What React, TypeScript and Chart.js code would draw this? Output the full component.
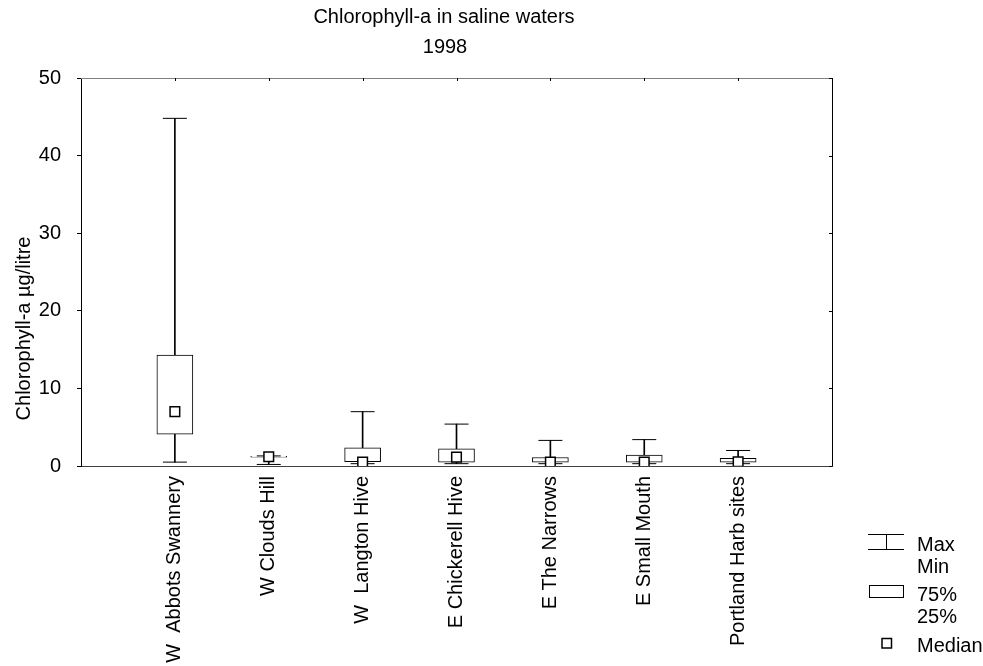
import React, { useEffect, useRef } from 'react';
import { Chart, registerables } from 'chart.js';

Chart.register(...registerables);

// ---- Data ----
const categories = [
  'W  Abbots Swannery',
  'W Clouds Hill',
  'W  Langton Hive',
  'E Chickerell Hive',
  'E The Narrows',
  'E Small Mouth',
  'Portland Harb sites',
];
const minValues = [0.5, 0.2, 0.3, 0.3, 0.3, 0.3, 0.3];
const q1Values = [4.1, 1.15, 0.55, 0.5, 0.5, 0.5, 0.5];
const medianValues = [7.0, 1.2, 0.5, 1.15, 0.5, 0.5, 0.55];
const q3Values = [14.3, 1.25, 2.35, 2.2, 1.1, 1.4, 1.0];
const maxValues = [44.8, 1.3, 7.0, 5.4, 3.3, 3.4, 2.0];
const yTicks = [0, 10, 20, 30, 40, 50];
const titleLines = ['Chlorophyll-a in saline waters', '1998'];
const yAxisTitle = 'Chlorophyll-a µg/litre';
const legendLabels = ['Max', 'Min', '75%', '25%', 'Median'];

const FONT = '"Liberation Sans", Arial, sans-serif';

const decorPlugin = {
  id: 'decor',
  afterDraw(chart: any) {
    const { ctx, chartArea, scales } = chart;
    const { left, right, top, bottom } = chartArea;
    ctx.save();
    // frame: top and right
    ctx.lineWidth = 1;
    ctx.strokeStyle = '#808080';
    ctx.beginPath();
    ctx.moveTo(left, top + 0.5);
    ctx.lineTo(right + 0.5, top + 0.5);
    ctx.stroke();
    ctx.strokeStyle = '#000';
    ctx.beginPath();
    ctx.moveTo(right + 0.5, top);
    ctx.lineTo(right + 0.5, bottom);
    ctx.stroke();
    // top ticks at categories (inward)
    ctx.strokeStyle = '#000';
    categories.forEach((_, i) => {
      const px = Math.round(scales.x.getPixelForValue(i + 1)) + 0.5;
      ctx.beginPath();
      ctx.moveTo(px, top);
      ctx.lineTo(px, top + 3);
      ctx.stroke();
    });
    // right ticks (inward)
    yTicks.forEach((v) => {
      const py = Math.round(scales.y.getPixelForValue(v)) + 0.5;
      ctx.beginPath();
      ctx.moveTo(right + 0.5, py);
      ctx.lineTo(right - 3, py);
      ctx.stroke();
    });

    // titles
    ctx.fillStyle = '#000';
    ctx.font = `20px ${FONT}`;
    ctx.textAlign = 'center';
    ctx.textBaseline = 'alphabetic';
    ctx.fillText(titleLines[0], 444, 23);
    ctx.fillText(titleLines[1], 445, 53);

    // y axis title
    ctx.save();
    ctx.translate(29.5, 328.5);
    ctx.rotate(-Math.PI / 2);
    ctx.textAlign = 'center';
    ctx.fillText(yAxisTitle, 0, 0);
    ctx.restore();

    // legend
    ctx.strokeStyle = '#000';
    ctx.lineWidth = 1;
    ctx.beginPath();
    ctx.moveTo(868, 534.5);
    ctx.lineTo(904, 534.5);
    ctx.moveTo(868, 549.5);
    ctx.lineTo(904, 549.5);
    ctx.moveTo(886.5, 534.5);
    ctx.lineTo(886.5, 549.5);
    ctx.stroke();
    ctx.fillStyle = '#fff';
    ctx.fillRect(869.5, 585.5, 34, 12);
    ctx.strokeRect(869.5, 585.5, 34, 12);
    ctx.lineWidth = 1.5;
    ctx.fillRect(882, 638.5, 9.5, 9.5);
    ctx.strokeRect(882, 638.5, 9.5, 9.5);

    ctx.fillStyle = '#000';
    ctx.textAlign = 'left';
    ctx.textBaseline = 'alphabetic';
    const ys = [550.5, 572.5, 601, 623, 651.5];
    legendLabels.forEach((t, i) => ctx.fillText(t, 917, ys[i]));
    ctx.restore();
  },
};

export default function App() {
  const ref = useRef<HTMLCanvasElement | null>(null);

  useEffect(() => {
    if (!ref.current) return;
    Chart.defaults.font.family = FONT;
    const xs = categories.map((_, i) => i + 1);
    const chart = new Chart(ref.current, {
      type: 'bar',
      data: {
        datasets: [
          {
            type: 'bar',
            label: 'whisker',
            data: xs.map((x, i) => ({ x, y: [minValues[i], maxValues[i]] })) as any,
            backgroundColor: '#000',
            barThickness: 1,
            grouped: false,
            order: 4,
          } as any,
          {
            type: 'bar',
            label: 'box',
            data: xs.map((x, i) => ({ x, y: [q1Values[i], q3Values[i]] })) as any,
            backgroundColor: '#fff',
            borderColor: '#000',
            borderWidth: 1,
            borderSkipped: false,
            barThickness: 36,
            grouped: false,
            order: 3,
          } as any,
          {
            type: 'line',
            label: 'caps',
            data: [
              ...xs.map((x, i) => ({ x, y: maxValues[i] })),
              ...xs.map((x, i) => ({ x, y: minValues[i] })),
            ],
            showLine: false,
            pointStyle: 'line',
            pointRadius: 12,
            borderColor: '#000',
            borderWidth: 1,
            order: 2,
          } as any,
          {
            type: 'line',
            label: 'median',
            data: xs.map((x, i) => ({ x, y: medianValues[i] })),
            showLine: false,
            pointStyle: 'rect',
            pointRadius: 6.8,
            pointBackgroundColor: '#fff',
            pointBorderColor: '#000',
            pointBorderWidth: 1.5,
            order: 1,
          } as any,
        ],
      },
      options: {
        responsive: false,
        animation: false,
        devicePixelRatio: 1,
        layout: { padding: { top: 78, right: 151, left: 0, bottom: 0 } },
        plugins: {
          legend: { display: false },
          title: { display: false },
          tooltip: { enabled: false },
        },
        scales: {
          x: {
            type: 'linear',
            min: 0,
            max: 8,
            offset: false,
            grid: { display: true, drawOnChartArea: false, drawTicks: false, offset: false },
            border: { display: true, color: '#404040', width: 1 },
            ticks: {
              stepSize: 1,
              autoSkip: false,
              maxRotation: 90,
              minRotation: 90,
              padding: 10,
              color: '#000',
              font: { size: 20, family: FONT },
              callback: (v: any) => {
                const n = Number(v);
                return n >= 1 && n <= categories.length && Number.isInteger(n) ? categories[n - 1] : '';
              },
            },
            afterFit: (s: any) => {
              s.height = 200;
            },
          },
          y: {
            type: 'linear',
            min: 0,
            max: 50,
            grid: { drawOnChartArea: false, drawTicks: true, tickLength: 4, color: '#000' },
            border: { display: true, color: '#000', width: 1 },
            ticks: {
              stepSize: 10,
              padding: 16,
              color: '#000',
              font: { size: 20, family: FONT },
            },
            afterFit: (s: any) => {
              s.width = 81;
            },
          },
        },
      } as any,
      plugins: [decorPlugin],
    });
    return () => chart.destroy();
  }, []);

  return (
    <div style={{ position: 'absolute', left: 0, top: 0, width: 983, height: 666, background: '#fff' }}>
      <canvas ref={ref} width={983} height={666} style={{ display: 'block' }} />
    </div>
  );
}
